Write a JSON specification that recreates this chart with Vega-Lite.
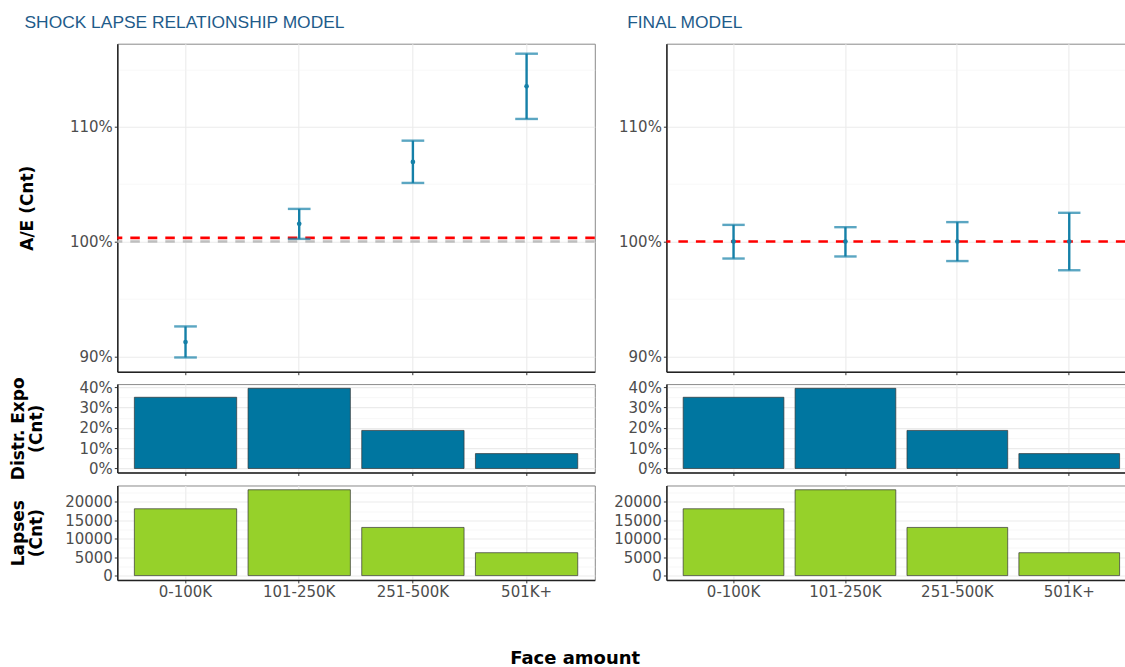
{
  "$schema": "https://vega.github.io/schema/vega-lite/v6.json",
  "background": "white",
  "padding": {"left": 8.3, "top": 13.7, "right": 0, "bottom": 4},
  "spacing": 15.1,
  "datasets": {
    "bands": [
      {"band": "0-100K", "ae_shock": 0.9125, "lo_shock": 0.8991, "hi_shock": 0.9261, "ae_final": 1.0, "lo_final": 0.9852, "hi_final": 1.0145, "expo": 0.350, "lapses": 18100},
      {"band": "101-250K", "ae_shock": 1.0154, "lo_shock": 1.0023, "hi_shock": 1.0284, "ae_final": 1.0, "lo_final": 0.987, "hi_final": 1.0125, "expo": 0.394, "lapses": 23250},
      {"band": "251-500K", "ae_shock": 1.0693, "lo_shock": 1.051, "hi_shock": 1.0878, "ae_final": 1.0, "lo_final": 0.983, "hi_final": 1.0169, "expo": 0.187, "lapses": 13050},
      {"band": "501K+", "ae_shock": 1.1351, "lo_shock": 1.1067, "hi_shock": 1.1635, "ae_final": 1.0, "lo_final": 0.975, "hi_final": 1.025, "expo": 0.073, "lapses": 6200}
    ],
    "refs": [
      {"panel": "shock", "overall": 1.0032, "base": 1.0},
      {"panel": "final", "overall": 1.0, "base": 1.0}
    ]
  },
  "title": {
    "text": "Face amount",
    "orient": "bottom",
    "anchor": "middle",
    "frame": "bounds",
    "font": "DejaVu Sans",
    "fontSize": 18,
    "fontWeight": "bold",
    "color": "#000000",
    "offset": 50,
    "dx": 2.5
  },
  "hconcat": [
    {
      "title": {"text": "SHOCK LAPSE RELATIONSHIP MODEL", "anchor": "start", "frame": "bounds", "dx": 16, "offset": 12},
      "spacing": 12.4,
      "bounds": "flush",
      "vconcat": [
        {
          "width": 477.5,
          "height": 328,
          "layer": [
            {
              "data": {"name": "refs"},
              "transform": [{"filter": "datum.panel === 'shock'"}],
              "mark": {"type": "rule", "color": "#bebebe", "strokeWidth": 2.6, "strokeDash": [9.5, 8]},
              "encoding": {
                "y": {"field": "base", "type": "quantitative", "scale": {"domain": [0.8867, 1.1722], "nice": false, "zero": false},
                  "axis": {
                    "values": [0.9, 0.95, 1.0, 1.05, 1.1, 1.15],
                    "labelExpr": "round(datum.value*100) % 10 === 0 ? format(datum.value, '.0%') : ''",
                    "tickOpacity": {"condition": {"test": "round(datum.value*100) % 10 === 0", "value": 1}, "value": 0},
                    "gridColor": {"condition": {"test": "round(datum.value*100) % 10 === 0", "value": "#ebebeb"}, "value": "#f4f4f4"},
                    "gridWidth": {"condition": {"test": "round(datum.value*100) % 10 === 0", "value": 1.1}, "value": 0.6},
                    "title": "A/E (Cnt)", "titleX": -90, "titleY": 164, "titleAngle": -90, "titleAlign": "center", "titleBaseline": "middle"
                  }
                }
              }
            },
            {
              "data": {"name": "refs"},
              "transform": [{"filter": "datum.panel === 'shock'"}],
              "mark": {"type": "rule", "color": "#ff0000", "strokeWidth": 2.6, "strokeDash": [9.5, 8]},
              "encoding": {
                "y": {"field": "overall", "type": "quantitative", "scale": {"domain": [0.8867, 1.1722], "nice": false, "zero": false}}
              }
            },
            {
              "data": {"name": "bands"},
              "mark": {"type": "rule", "color": "#1580a8", "strokeWidth": 2.4},
              "encoding": {
                "x": {"field": "band", "type": "nominal", "sort": ["0-100K", "101-250K", "251-500K", "501K+"],
                  "scale": {"type": "band", "paddingInner": 0.1, "paddingOuter": 0.15},
                  "axis": {"labels": false, "title": null, "grid": true, "bandPosition": 0.5, "gridColor": "#ebebeb"}},
                "y": {"field": "lo_shock", "type": "quantitative", "scale": {"domain": [0.8867, 1.1722], "nice": false, "zero": false}},
                "y2": {"field": "hi_shock"}
              }
            },
            {
              "data": {"name": "bands"},
              "mark": {"type": "tick", "color": "#1580a8", "thickness": 2.4, "size": 22.7},
              "encoding": {
                "x": {"field": "band", "type": "nominal", "sort": ["0-100K", "101-250K", "251-500K", "501K+"]},
                "y": {"field": "lo_shock", "type": "quantitative", "scale": {"domain": [0.8867, 1.1722], "nice": false, "zero": false}}
              }
            },
            {
              "data": {"name": "bands"},
              "mark": {"type": "tick", "color": "#1580a8", "thickness": 2.4, "size": 22.7},
              "encoding": {
                "x": {"field": "band", "type": "nominal", "sort": ["0-100K", "101-250K", "251-500K", "501K+"]},
                "y": {"field": "hi_shock", "type": "quantitative", "scale": {"domain": [0.8867, 1.1722], "nice": false, "zero": false}}
              }
            },
            {
              "data": {"name": "bands"},
              "mark": {"type": "circle", "color": "#1580a8", "opacity": 1, "size": 22},
              "encoding": {
                "x": {"field": "band", "type": "nominal", "sort": ["0-100K", "101-250K", "251-500K", "501K+"]},
                "y": {"field": "ae_shock", "type": "quantitative", "scale": {"domain": [0.8867, 1.1722], "nice": false, "zero": false}}
              }
            }
          ]
        },
        {
          "width": 477.5,
          "height": 88.4,
          "data": {"name": "bands"},
          "mark": {"type": "bar", "color": "#0076a0", "stroke": "#333333", "strokeWidth": 0.7},
          "encoding": {
            "x": {"field": "band", "type": "nominal", "sort": ["0-100K", "101-250K", "251-500K", "501K+"],
              "scale": {"type": "band", "paddingInner": 0.1, "paddingOuter": 0.15},
              "axis": {"labels": false, "title": null, "grid": true, "bandPosition": 0.5, "gridColor": "#ebebeb"}},
            "y": {"field": "expo", "type": "quantitative", "scale": {"domain": [-0.01975, 0.41475], "nice": false, "zero": false},
              "axis": {
                "values": [0, 0.05, 0.1, 0.15, 0.2, 0.25, 0.3, 0.35, 0.4],
                "labelExpr": "round(datum.value*100) % 10 === 0 ? format(datum.value, '.0%') : ''",
                "tickOpacity": {"condition": {"test": "round(datum.value*100) % 10 === 0", "value": 1}, "value": 0},
                "gridColor": {"condition": {"test": "round(datum.value*100) % 10 === 0", "value": "#ebebeb"}, "value": "#f4f4f4"},
                "gridWidth": {"condition": {"test": "round(datum.value*100) % 10 === 0", "value": 1.1}, "value": 0.6},
                "title": ["Distr. Expo", "(Cnt)"], "titleX": -99.3, "titleY": 44.2, "titleAngle": -90, "titleAlign": "center", "titleBaseline": "middle", "titleLineHeight": 18.5
              }
            }
          }
        },
        {
          "width": 477.5,
          "height": 94.4,
          "data": {"name": "bands"},
          "mark": {"type": "bar", "color": "#96d12a", "stroke": "#333333", "strokeWidth": 0.7},
          "encoding": {
            "x": {"field": "band", "type": "nominal", "sort": ["0-100K", "101-250K", "251-500K", "501K+"],
              "scale": {"type": "band", "paddingInner": 0.1, "paddingOuter": 0.15},
              "axis": {"title": null, "grid": true, "bandPosition": 0.5, "labelAngle": 0, "gridColor": "#ebebeb"}},
            "y": {"field": "lapses", "type": "quantitative", "scale": {"domain": [-1162, 24412], "nice": false, "zero": false},
              "axis": {
                "values": [0, 2500, 5000, 7500, 10000, 12500, 15000, 17500, 20000, 22500],
                "labelExpr": "datum.value % 5000 === 0 ? format(datum.value, 'd') : ''",
                "tickOpacity": {"condition": {"test": "datum.value % 5000 === 0", "value": 1}, "value": 0},
                "gridColor": {"condition": {"test": "datum.value % 5000 === 0", "value": "#ebebeb"}, "value": "#f4f4f4"},
                "gridWidth": {"condition": {"test": "datum.value % 5000 === 0", "value": 1.1}, "value": 0.6},
                "title": ["Lapses", "(Cnt)"], "titleX": -99.3, "titleY": 47.2, "titleAngle": -90, "titleAlign": "center", "titleBaseline": "middle", "titleLineHeight": 18.5
              }
            }
          }
        }
      ]
    },
    {
      "title": {"text": "FINAL MODEL", "anchor": "start", "frame": "bounds", "dx": 14, "offset": 12},
      "spacing": 12.4,
      "bounds": "flush",
      "vconcat": [
        {
          "width": 459,
          "height": 328,
          "layer": [
            {
              "data": {"name": "refs"},
              "transform": [{"filter": "datum.panel === 'final'"}],
              "mark": {"type": "rule", "color": "#ff0000", "strokeWidth": 2.6, "strokeDash": [9.5, 8]},
              "encoding": {
                "y": {"field": "overall", "type": "quantitative", "scale": {"domain": [0.8867, 1.1722], "nice": false, "zero": false},
                  "axis": {
                    "values": [0.9, 0.95, 1.0, 1.05, 1.1, 1.15],
                    "labelExpr": "round(datum.value*100) % 10 === 0 ? format(datum.value, '.0%') : ''",
                    "tickOpacity": {"condition": {"test": "round(datum.value*100) % 10 === 0", "value": 1}, "value": 0},
                    "gridColor": {"condition": {"test": "round(datum.value*100) % 10 === 0", "value": "#ebebeb"}, "value": "#f4f4f4"},
                    "gridWidth": {"condition": {"test": "round(datum.value*100) % 10 === 0", "value": 1.1}, "value": 0.6},
                    "title": null
                  }
                }
              }
            },
            {
              "data": {"name": "bands"},
              "mark": {"type": "rule", "color": "#1580a8", "strokeWidth": 2.4},
              "encoding": {
                "x": {"field": "band", "type": "nominal", "sort": ["0-100K", "101-250K", "251-500K", "501K+"],
                  "scale": {"type": "band", "paddingInner": 0.1, "paddingOuter": 0.15, "range": [0, 470]},
                  "axis": {"labels": false, "title": null, "grid": true, "bandPosition": 0.5, "gridColor": "#ebebeb"}},
                "y": {"field": "lo_final", "type": "quantitative", "scale": {"domain": [0.8867, 1.1722], "nice": false, "zero": false}},
                "y2": {"field": "hi_final"}
              }
            },
            {
              "data": {"name": "bands"},
              "mark": {"type": "tick", "color": "#1580a8", "thickness": 2.4, "size": 22.4},
              "encoding": {
                "x": {"field": "band", "type": "nominal", "sort": ["0-100K", "101-250K", "251-500K", "501K+"]},
                "y": {"field": "lo_final", "type": "quantitative", "scale": {"domain": [0.8867, 1.1722], "nice": false, "zero": false}}
              }
            },
            {
              "data": {"name": "bands"},
              "mark": {"type": "tick", "color": "#1580a8", "thickness": 2.4, "size": 22.4},
              "encoding": {
                "x": {"field": "band", "type": "nominal", "sort": ["0-100K", "101-250K", "251-500K", "501K+"]},
                "y": {"field": "hi_final", "type": "quantitative", "scale": {"domain": [0.8867, 1.1722], "nice": false, "zero": false}}
              }
            },
            {
              "data": {"name": "bands"},
              "mark": {"type": "circle", "color": "#1580a8", "opacity": 1, "size": 22},
              "encoding": {
                "x": {"field": "band", "type": "nominal", "sort": ["0-100K", "101-250K", "251-500K", "501K+"]},
                "y": {"field": "ae_final", "type": "quantitative", "scale": {"domain": [0.8867, 1.1722], "nice": false, "zero": false}}
              }
            }
          ]
        },
        {
          "width": 459,
          "height": 88.4,
          "data": {"name": "bands"},
          "mark": {"type": "bar", "color": "#0076a0", "stroke": "#333333", "strokeWidth": 0.7},
          "encoding": {
            "x": {"field": "band", "type": "nominal", "sort": ["0-100K", "101-250K", "251-500K", "501K+"],
              "scale": {"type": "band", "paddingInner": 0.1, "paddingOuter": 0.15, "range": [0, 470]},
              "axis": {"labels": false, "title": null, "grid": true, "bandPosition": 0.5, "gridColor": "#ebebeb"}},
            "y": {"field": "expo", "type": "quantitative", "scale": {"domain": [-0.01975, 0.41475], "nice": false, "zero": false},
              "axis": {
                "values": [0, 0.05, 0.1, 0.15, 0.2, 0.25, 0.3, 0.35, 0.4],
                "labelExpr": "round(datum.value*100) % 10 === 0 ? format(datum.value, '.0%') : ''",
                "tickOpacity": {"condition": {"test": "round(datum.value*100) % 10 === 0", "value": 1}, "value": 0},
                "gridColor": {"condition": {"test": "round(datum.value*100) % 10 === 0", "value": "#ebebeb"}, "value": "#f4f4f4"},
                "gridWidth": {"condition": {"test": "round(datum.value*100) % 10 === 0", "value": 1.1}, "value": 0.6},
                "title": null
              }
            }
          }
        },
        {
          "width": 459,
          "height": 94.4,
          "data": {"name": "bands"},
          "mark": {"type": "bar", "color": "#96d12a", "stroke": "#333333", "strokeWidth": 0.7},
          "encoding": {
            "x": {"field": "band", "type": "nominal", "sort": ["0-100K", "101-250K", "251-500K", "501K+"],
              "scale": {"type": "band", "paddingInner": 0.1, "paddingOuter": 0.15, "range": [0, 470]},
              "axis": {"title": null, "grid": true, "bandPosition": 0.5, "labelAngle": 0, "gridColor": "#ebebeb"}},
            "y": {"field": "lapses", "type": "quantitative", "scale": {"domain": [-1162, 24412], "nice": false, "zero": false},
              "axis": {
                "values": [0, 2500, 5000, 7500, 10000, 12500, 15000, 17500, 20000, 22500],
                "labelExpr": "datum.value % 5000 === 0 ? format(datum.value, 'd') : ''",
                "tickOpacity": {"condition": {"test": "datum.value % 5000 === 0", "value": 1}, "value": 0},
                "gridColor": {"condition": {"test": "datum.value % 5000 === 0", "value": "#ebebeb"}, "value": "#f4f4f4"},
                "gridWidth": {"condition": {"test": "datum.value % 5000 === 0", "value": 1.1}, "value": 0.6},
                "title": null
              }
            }
          }
        }
      ]
    }
  ],
  "config": {
    "font": "DejaVu Sans",
    "view": {"stroke": "#8a8a8a", "strokeWidth": 1},
    "axis": {
      "labelFont": "DejaVu Sans", "labelFontSize": 15, "labelColor": "#4d4d4d", "labelPadding": 2,
      "tickColor": "#333333", "tickSize": 3, "tickWidth": 1,
      "domainColor": "#222222", "domainWidth": 1.5,
      "gridColor": "#ebebeb", "gridWidth": 1.1,
      "titleFont": "DejaVu Sans", "titleFontSize": 17, "titleFontWeight": "bold", "titleColor": "#000000"
    },
    "title": {"font": "Liberation Sans", "fontSize": 17.4, "fontWeight": "normal", "color": "#1e5b8a", "baseline": "alphabetic"}
  }
}
